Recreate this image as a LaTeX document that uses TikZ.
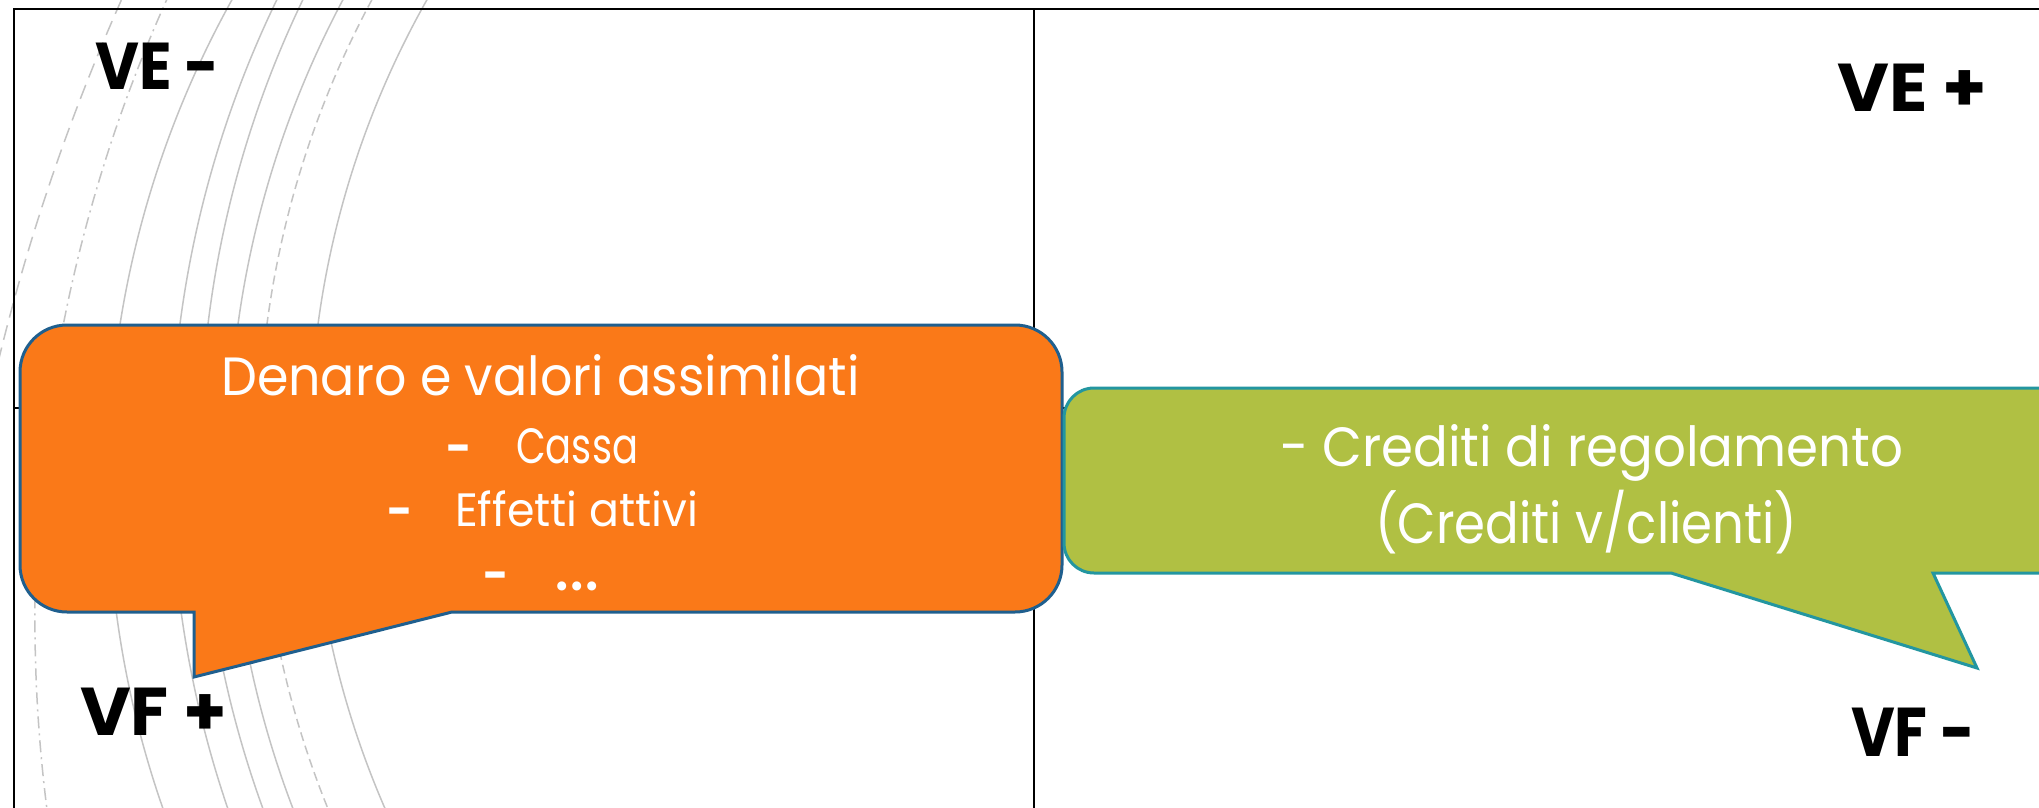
\documentclass[tikz,border=0pt]{standalone}
\usepackage{fontspec}
\setmainfont{Poppins}
\usepackage{graphicx}

\definecolor{boxorange}{RGB}{250,121,24}
\definecolor{orangeedge}{RGB}{31,95,142}
\definecolor{boxgreen}{RGB}{176,192,67}
\definecolor{greenedge}{RGB}{35,150,160}
\definecolor{arcgrey}{RGB}{196,196,196}

% text squeezed to a given width and cap height
\newcommand\capfit[3]{\resizebox{#1pt}{#2pt}{\smash{#3}\vphantom{C}}}

\begin{document}
\begin{tikzpicture}[x=1pt,y=-1pt,
  arcline/.style={draw=arcgrey, line width=1.5pt},
  arclong/.style={arcline, dash pattern=on 15pt off 8pt},
  arcdashdot/.style={arcline, dash pattern=on 12pt off 5pt on 2pt off 5pt},
  arcshort/.style={arcline, dash pattern=on 9pt off 5pt},
  frameline/.style={draw=black, line width=2.2pt},
  divider/.style={draw=black, line width=1.6pt},
  orangecall/.style={fill=boxorange, draw=orangeedge, line width=3pt, line join=miter},
  greencall/.style={fill=boxgreen, draw=greenedge, line width=3pt, line join=miter},
  txt/.style={inner sep=0pt, anchor=base west, text=white},
  bulletmark/.style={inner sep=0pt, anchor=base, text=white, font=\fontsize{44pt}{44pt}\selectfont\bfseries},
  lbl/.style={inner sep=0pt, anchor=base west, text=black, font=\bfseries}]

\useasboundingbox (0,0) rectangle (2039,808);
\clip (0,0) rectangle (2039,808);
\fill[white] (0,0) rectangle (2039,808);

% background sweep of large grey circles, kept to the left side
\begin{scope}
  \clip (-20,-20) rectangle (700,830);
  \draw[arclong]    (2061.7,862.9) circle[radius=2123];
  \draw[arcdashdot] (1544.4,617.5) circle[radius=1509.5];
  \draw[arcline]    (1100.5,481.1) circle[radius=992.8];
  \draw[arcline]    (1237.9,463.8) circle[radius=1067.0];
  \draw[arcline]    (1244.5,451.6) circle[radius=1044.2];
  \draw[arcline]    (1208.6,459.1) circle[radius=979.8];
  \draw[arcshort]   (1212.3,451.0) circle[radius=953.7];
  \draw[arcline]    (1218.5,446.2) circle[radius=908.6];
\end{scope}

% quadrant frame
\draw[frameline] (14,9) rectangle (2100,850);
\draw[divider] (1034,9) -- (1034,850);
\draw[divider] (14,408) -- (2100,408);

% orange callout
\draw[orangecall] (67,325) -- (1015,325) arc[start angle=270, end angle=360, radius=47]
  -- (1062,565) arc[start angle=0, end angle=90, radius=47]
  -- (452,612) -- (194,677) -- (194,612)
  -- (67,612) arc[start angle=90, end angle=180, radius=47]
  -- (20,372) arc[start angle=180, end angle=270, radius=47] -- cycle;

% green callout
\draw[greencall] (1094,388) -- (2100,388) -- (2100,573) -- (1933,573) -- (1977,668) -- (1671,573)
  -- (1094,573) arc[start angle=90, end angle=180, radius=30]
  -- (1064,418) arc[start angle=180, end angle=270, radius=30] -- cycle;

% orange callout text
\node[txt] (denaro) at (221,395) {\capfit{638}{38}{Denaro e valori assimilati}};
\node[bulletmark] (dashcassa) at (459,463) {-};
\node[txt] (cassa) at (516,463) {\capfit{122}{35}{Cassa}};
\node[bulletmark] (dasheffetti) at (400,526) {-};
\node[txt] (effetti) at (455,526) {\capfit{243}{33}{Effetti attivi}};
\node[bulletmark] (dashdots) at (496,590) {-};
\node[txt] (dots) at (554,590) {\resizebox{46pt}{!}{...}};

% green callout text
\node[txt] (credreg) at (1280,466) {\capfit{623}{39}{- Crediti di regolamento}};
\node[txt] (credcli) at (1375,543) {\capfit{422}{40}{(Crediti v/clienti)}};

% quadrant labels
\node[lbl] (veminus) at (95,89) {\capfit{124}{47}{VE -}};
\node[lbl] (veplus) at (1837,111) {\capfit{150}{48}{VE +}};
\node[lbl] (vfplus) at (80,735) {\capfit{147}{48}{VF +}};
\node[lbl] (vfminus) at (1851,756) {\capfit{124}{49}{VF -}};
\end{tikzpicture}
\end{document}
